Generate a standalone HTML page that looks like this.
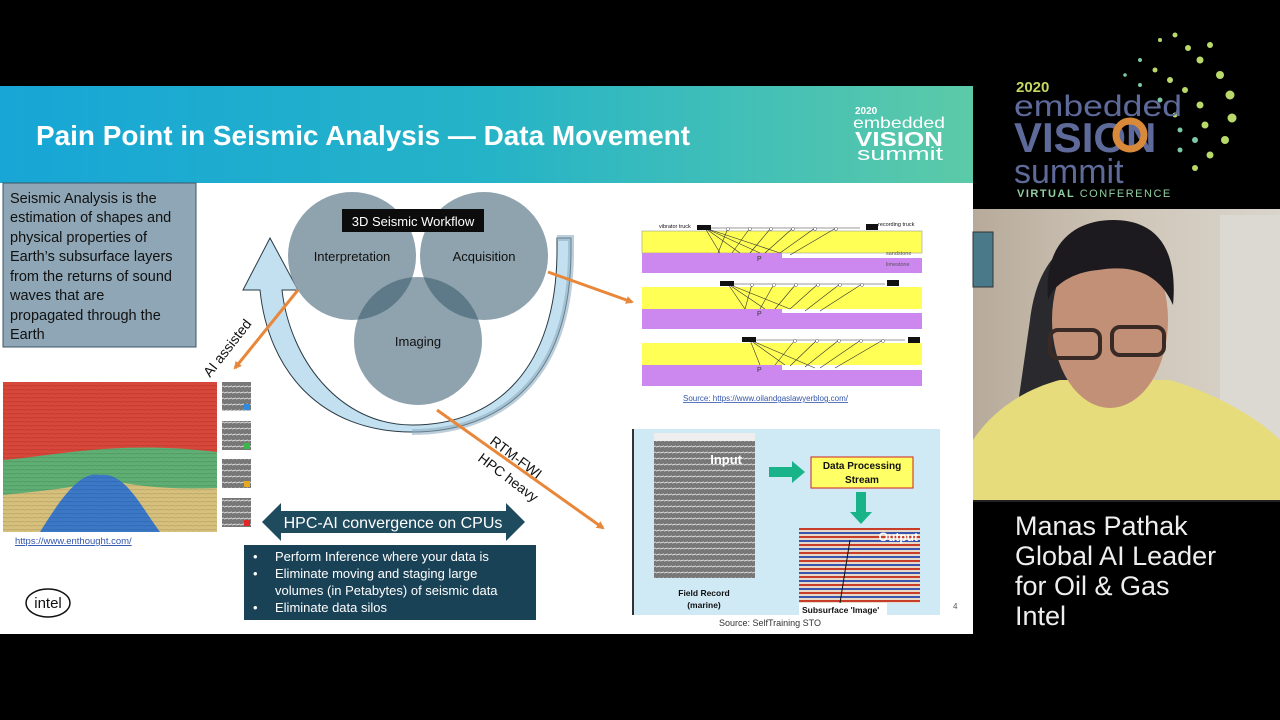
<!DOCTYPE html>
<html><head><meta charset="utf-8"><style>
html,body{margin:0;padding:0;background:#000;width:1280px;height:720px;overflow:hidden}
svg{display:block}
text{font-family:"Liberation Sans",sans-serif}
</style></head><body>
<svg width="1280" height="720" viewBox="0 0 1280 720" xmlns="http://www.w3.org/2000/svg">
<defs>
<linearGradient id="tb" x1="0" x2="1" y1="0" y2="0">
<stop offset="0" stop-color="#17a6d6"/><stop offset="0.5" stop-color="#25b3c8"/><stop offset="1" stop-color="#5ccaa8"/>
</linearGradient>
<linearGradient id="wall" x1="0" x2="1"><stop offset="0" stop-color="#b7aa9a"/><stop offset="0.5" stop-color="#cfc6b8"/><stop offset="1" stop-color="#d9d4cc"/></linearGradient>
<pattern id="lines" width="6" height="4" patternUnits="userSpaceOnUse"><rect width="6" height="4" fill="none"/><line x1="0" y1="2" x2="6" y2="1.5" stroke="#000" stroke-opacity="0.15" stroke-width="0.8"/></pattern>
<pattern id="gray" width="4" height="6" patternUnits="userSpaceOnUse"><rect width="4" height="6" fill="#777"/><line x1="0" y1="3" x2="4" y2="2" stroke="#ddd" stroke-width="1"/></pattern>
<pattern id="rwb" width="12" height="8" patternUnits="userSpaceOnUse"><rect width="12" height="8" fill="#e9d9c9"/><rect y="0" width="12" height="2" fill="#c83c2a"/><rect y="4" width="12" height="2" fill="#3a55b0"/></pattern>
<marker id="ah" markerWidth="8" markerHeight="8" refX="6" refY="4" orient="auto" markerUnits="userSpaceOnUse"><path d="M0,0 L8,4 L0,8 Z" fill="#e8873a"/></marker>
</defs>
<rect width="1280" height="720" fill="#000"/>
<rect x="0" y="86" width="973" height="548" fill="#fff"/>
<rect x="0" y="86" width="973" height="97" fill="url(#tb)"/>
<text x="36" y="145" font-size="28" font-weight="bold" fill="#fff" textLength="654" lengthAdjust="spacingAndGlyphs">Pain Point in Seismic Analysis — Data Movement</text>
<text x="855" y="114" font-size="10" font-weight="bold" fill="#fff">2020</text>
<text x="853" y="128" font-size="16" fill="#fff" textLength="92" lengthAdjust="spacingAndGlyphs">embedded</text>
<text x="855" y="146" font-size="20" font-weight="bold" fill="#fff" textLength="88" lengthAdjust="spacingAndGlyphs">VISION</text>
<text x="857" y="160" font-size="18" fill="#fff" textLength="86" lengthAdjust="spacingAndGlyphs">summit</text>
<rect x="3" y="183" width="193" height="164" fill="#8ea6b5" stroke="#3e5866"/>
<g font-size="14.5" fill="#111">
<text x="10" y="203">Seismic Analysis is the</text>
<text x="10" y="222">estimation of shapes and</text>
<text x="10" y="242">physical properties of</text>
<text x="10" y="261">Earth’s subsurface layers</text>
<text x="10" y="281">from the returns of sound</text>
<text x="10" y="300">waves that are</text>
<text x="10" y="320">propagated through the</text>
<text x="10" y="339">Earth</text>
</g>
<path d="M557,238 L571,238 L571,250 C571,380 500,432 412,432 C320,432 268,370 260,290 L243,290 L270,238 L298,290 L282,290 C290,360 340,425 412,425 C495,425 557,370 557,250 Z" fill="#c3e0f0" stroke="#2a3a44" stroke-width="1"/>
<path d="M557,238 L571,238 L571,250 C571,380 500,432 412,432" fill="none" stroke="#8faebf" stroke-width="6" opacity="0.6"/>
<g fill="#8fa3af">
<circle cx="352" cy="256" r="64"/><circle cx="484" cy="256" r="64"/><circle cx="418" cy="341" r="64"/>
</g>
<clipPath id="cI"><circle cx="352" cy="256" r="64"/></clipPath>
<clipPath id="cA"><circle cx="484" cy="256" r="64"/></clipPath>
<g fill="#5e7a89">
<circle cx="418" cy="341" r="64" clip-path="url(#cI)"/>
<circle cx="418" cy="341" r="64" clip-path="url(#cA)"/>
</g>
<rect x="342" y="209" width="142" height="23" fill="#0c0c0c"/>
<text x="413" y="226" font-size="13" fill="#fff" text-anchor="middle">3D Seismic Workflow</text>
<g font-size="13" fill="#111" text-anchor="middle">
<text x="352" y="261">Interpretation</text><text x="484" y="261">Acquisition</text><text x="418" y="346">Imaging</text>
</g>
<g stroke="#e8873a" stroke-width="3" marker-end="url(#ah)">
<line x1="298" y1="290" x2="235" y2="368"/>
<line x1="548" y1="272" x2="632" y2="302"/>
<line x1="437" y1="410" x2="603" y2="528"/>
</g>
<text font-size="14" fill="#111" transform="translate(210,378) rotate(-52)">AI assisted</text>
<text font-size="14" fill="#111" transform="translate(489,443) rotate(37)">RTM-FWI</text>
<text font-size="14" fill="#111" transform="translate(477,460) rotate(37)">HPC heavy</text>
<rect x="3" y="382" width="214" height="150" fill="#d9463a"/>
<path d="M3,460 C60,455 120,440 217,452 L217,532 L3,532 Z" fill="#5fae73"/>
<path d="M3,495 C50,490 80,488 100,478 C130,485 160,490 217,488 L217,532 L3,532 Z" fill="#d6c07c"/>
<path d="M40,532 C60,500 80,470 100,475 C125,472 140,505 160,532 Z" fill="#3b78c8"/>
<rect x="3" y="382" width="214" height="150" fill="url(#lines)"/>
<g fill="url(#gray)">
<rect x="222" y="382" width="29" height="29"/><rect x="222" y="421" width="29" height="29"/><rect x="222" y="459" width="29" height="29"/><rect x="222" y="498" width="29" height="29"/>
</g>
<rect x="244" y="404" width="6" height="6" fill="#2d8ce0"/><rect x="244" y="443" width="6" height="6" fill="#3bb84a"/><rect x="244" y="481" width="6" height="6" fill="#e5a823"/><rect x="244" y="520" width="6" height="6" fill="#e02828"/>
<text x="15" y="544" font-size="9.5" fill="#3355aa" text-decoration="underline">https://www.enthought.com/</text>
<ellipse cx="48" cy="603" rx="22" ry="14" fill="none" stroke="#111" stroke-width="1.5"/>
<text x="48" y="608" font-size="15" fill="#111" text-anchor="middle">intel</text>
<path d="M262,522 L281,503 L281,511 L506,511 L506,503 L525,522 L506,541 L506,533 L281,533 L281,541 Z" fill="#1f4b5e"/>
<text x="393" y="528" font-size="16" fill="#fff" text-anchor="middle">HPC-AI convergence on CPUs</text>
<rect x="244" y="545" width="292" height="75" fill="#1a4256"/>
<g font-size="13" fill="#fff">
<text x="253" y="561">•</text><text x="275" y="561">Perform Inference where your data is</text>
<text x="253" y="578">•</text><text x="275" y="578">Eliminate moving and staging large</text>
<text x="275" y="595">volumes (in Petabytes) of seismic data</text>
<text x="253" y="612">•</text><text x="275" y="612">Eliminate data silos</text>
</g>
<g>
<rect x="642" y="231" width="280" height="22" fill="#ffff55" stroke="#888" stroke-width="0.5"/>
<path d="M642,253 L782,253 L782,258 L922,258 L922,273 L642,273 Z" fill="#cc88ee"/>
<rect x="642" y="287" width="280" height="22" fill="#ffff55"/>
<path d="M642,309 L782,309 L782,313 L922,313 L922,329 L642,329 Z" fill="#cc88ee"/>
<rect x="642" y="343" width="280" height="22" fill="#ffff55"/>
<path d="M642,365 L782,365 L782,370 L922,370 L922,386 L642,386 Z" fill="#cc88ee"/>
<g stroke="#333" stroke-width="0.6" fill="none">
<path d="M705,228 L720,253 M705,228 L740,253 M705,228 L760,253 M705,228 L780,253 M718,253 L728,228 M732,253 L750,228 M750,253 L771,228 M765,253 L793,228 M780,253 L815,228 M790,255 L836,228 M705,228 L860,228"/>
<path d="M728,284 L745,309 M728,284 L765,309 M728,284 L790,309 M745,309 L752,284 M760,309 L774,284 M775,309 L796,284 M790,309 L818,284 M805,311 L840,284 M820,311 L862,284 M728,284 L885,284"/>
<path d="M750,340 L760,365 M750,340 L785,365 M750,340 L815,368 M775,365 L795,340 M790,366 L817,340 M805,367 L839,340 M820,368 L861,340 M835,368 L883,340 M750,340 L905,340"/>
</g>
<g fill="#fff" stroke="#555" stroke-width="0.5">
<circle cx="728" cy="229" r="1.5"/><circle cx="750" cy="229" r="1.5"/><circle cx="771" cy="229" r="1.5"/><circle cx="793" cy="229" r="1.5"/><circle cx="815" cy="229" r="1.5"/><circle cx="836" cy="229" r="1.5"/>
<circle cx="752" cy="285" r="1.5"/><circle cx="774" cy="285" r="1.5"/><circle cx="796" cy="285" r="1.5"/><circle cx="818" cy="285" r="1.5"/><circle cx="840" cy="285" r="1.5"/><circle cx="862" cy="285" r="1.5"/>
<circle cx="795" cy="341" r="1.5"/><circle cx="817" cy="341" r="1.5"/><circle cx="839" cy="341" r="1.5"/><circle cx="861" cy="341" r="1.5"/><circle cx="883" cy="341" r="1.5"/>
</g>
<rect x="697" y="225" width="14" height="5" fill="#111"/><rect x="866" y="224" width="12" height="6" fill="#111"/>
<rect x="720" y="281" width="14" height="5" fill="#111"/><rect x="887" y="280" width="12" height="6" fill="#111"/>
<rect x="742" y="337" width="14" height="5" fill="#111"/><rect x="908" y="337" width="12" height="6" fill="#111"/>
<text x="659" y="228" font-size="5.5" fill="#111">vibrator truck</text>
<text x="878" y="226" font-size="5.5" fill="#111">recording truck</text>
<text x="886" y="255" font-size="5.5" fill="#555">sandstone</text>
<text x="886" y="266" font-size="5.5" fill="#555">limestone</text>
<g font-size="7" fill="#333"><text x="757" y="261">P</text><text x="757" y="316">P</text><text x="757" y="372">P</text></g>
</g>
<text x="683" y="401" font-size="8" fill="#3355aa" text-decoration="underline">Source: https://www.oilandgaslawyerblog.com/</text>
<rect x="632" y="429" width="308" height="186" fill="#cfe9f5"/>
<rect x="632" y="429" width="2" height="186" fill="#333"/>
<rect x="654" y="433" width="101" height="145" fill="url(#gray)"/>
<rect x="654" y="433" width="101" height="8" fill="#eee"/>
<text x="742" y="464" font-size="13" font-weight="bold" fill="#fff" text-anchor="end">Input</text>
<text x="704" y="596" font-size="8.5" font-weight="bold" fill="#111" text-anchor="middle">Field Record</text>
<text x="704" y="608" font-size="8.5" font-weight="bold" fill="#111" text-anchor="middle">(marine)</text>
<path d="M769,467 L792,467 L792,461 L805,472 L792,483 L792,477 L769,477 Z" fill="#19b38a"/>
<rect x="811" y="457" width="102" height="31" fill="#ffff66" stroke="#cc2222"/>
<text x="862" y="469" font-size="10" font-weight="bold" fill="#111" text-anchor="middle">Data Processing</text>
<text x="862" y="483" font-size="10" font-weight="bold" fill="#111" text-anchor="middle">Stream</text>
<path d="M856,492 L866,492 L866,512 L872,512 L861,524 L850,512 L856,512 Z" fill="#19b38a"/>
<rect x="799" y="528" width="121" height="75" fill="url(#rwb)"/>
<line x1="850" y1="540" x2="840" y2="603" stroke="#111" stroke-width="1"/>
<text x="918" y="541" font-size="12" font-weight="bold" fill="#fff" text-anchor="end">Output</text>
<rect x="799" y="603" width="88" height="12" fill="#fff"/>
<text x="802" y="613" font-size="8.5" font-weight="bold" fill="#111">Subsurface 'Image'</text>
<text x="770" y="626" font-size="9" fill="#333" text-anchor="middle">Source: SelfTraining STO</text>
<text x="953" y="609" font-size="8" fill="#555">4</text>
<g fill="#b9d96a">
<circle cx="1160" cy="40" r="2"/><circle cx="1175" cy="35" r="2.5"/><circle cx="1188" cy="48" r="3"/><circle cx="1200" cy="60" r="3.5"/><circle cx="1210" cy="45" r="3"/><circle cx="1220" cy="75" r="4"/><circle cx="1230" cy="95" r="4.5"/><circle cx="1232" cy="118" r="4.5"/><circle cx="1225" cy="140" r="4"/><circle cx="1210" cy="155" r="3.5"/><circle cx="1195" cy="168" r="3"/>
<circle cx="1140" cy="60" r="2" fill="#7cc7a4"/><circle cx="1155" cy="70" r="2.5"/><circle cx="1170" cy="80" r="3"/><circle cx="1185" cy="90" r="3"/><circle cx="1200" cy="105" r="3.5"/><circle cx="1205" cy="125" r="3.5"/><circle cx="1195" cy="140" r="3" fill="#7cc7a4"/><circle cx="1180" cy="150" r="2.5" fill="#7cc7a4"/>
<circle cx="1125" cy="75" r="1.8" fill="#7cc7a4"/><circle cx="1140" cy="85" r="2" fill="#7cc7a4"/><circle cx="1160" cy="100" r="2.5" fill="#7cc7a4"/><circle cx="1175" cy="115" r="2.5"/><circle cx="1180" cy="130" r="2.5" fill="#7cc7a4"/>
</g>
<text x="1016" y="92" font-size="15" font-weight="bold" fill="#c3d860">2020</text>
<text x="1014" y="116" font-size="30" fill="#5e6a9a" textLength="168" lengthAdjust="spacingAndGlyphs">embedded</text>
<text x="1014" y="152" font-size="42" font-weight="bold" fill="#5e6a9a">VISION</text>
<circle cx="1130" cy="135" r="14" fill="none" stroke="#d88a3a" stroke-width="7"/>
<text x="1014" y="183" font-size="34" fill="#5e6a9a">summit</text>
<text x="1017" y="197" font-size="11" fill="#8fcfa0" letter-spacing="1.5"><tspan font-weight="bold">VIRTUAL</tspan> CONFERENCE</text>
<rect x="973" y="209" width="307" height="293" fill="url(#wall)"/>
<rect x="973" y="232" width="20" height="55" fill="#4a7a8a" stroke="#333"/>
<rect x="1220" y="215" width="60" height="287" fill="#dcd9d3"/>
<path d="M1030,320 C1035,280 1050,250 1080,240 L1080,440 L1010,460 Z" fill="#2a2a2e"/>
<path d="M973,502 L973,440 C1000,400 1040,385 1060,380 L1170,380 C1220,395 1260,420 1280,440 L1280,502 Z" fill="#e6dc7c"/>
<ellipse cx="1110" cy="320" rx="58" ry="88" fill="#c29077"/>
<path d="M1048,300 C1043,240 1078,220 1113,220 C1158,220 1178,250 1173,305 C1158,270 1128,265 1098,270 C1073,272 1053,285 1048,300 Z" fill="#1c1a1e"/>
<rect x="1050" y="330" width="50" height="28" rx="8" fill="none" stroke="#3a2a26" stroke-width="4"/>
<rect x="1112" y="327" width="52" height="28" rx="8" fill="none" stroke="#3a2a26" stroke-width="4"/>
<rect x="973" y="500" width="307" height="2" fill="#222"/>
<g font-size="27" fill="#eee">
<text x="1015" y="535">Manas Pathak</text>
<text x="1015" y="565">Global AI Leader</text>
<text x="1015" y="595">for Oil &amp; Gas</text>
<text x="1015" y="625">Intel</text>
</g>
</svg>
</body></html>
